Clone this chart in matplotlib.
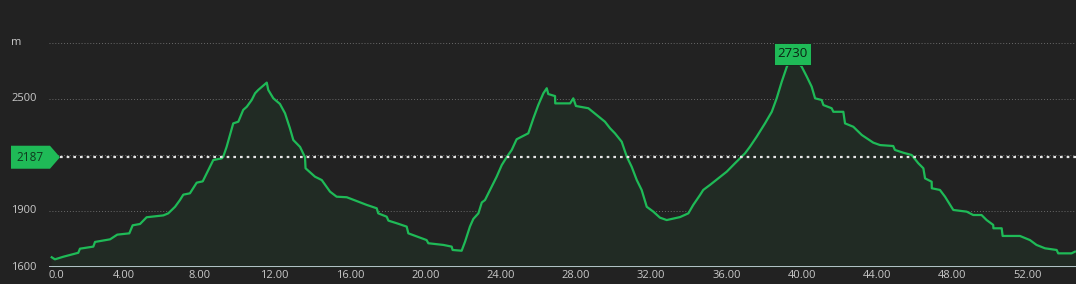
import matplotlib
matplotlib.use("Agg")
import matplotlib.pyplot as plt
from matplotlib.patches import Polygon, Rectangle
import numpy as np

# distance (km) and elevation (m)
dist_km = [0.16, 0.33, 0.78, 1.57, 1.66, 2.37, 2.46, 3.26, 3.64, 4.28, 4.46, 4.85, 5.20, 6.09, 6.35,
           6.71, 6.97, 7.15, 7.50, 7.86, 8.18, 8.39, 8.74, 9.19, 9.27, 9.45, 9.80, 10.07, 10.33, 10.52,
           10.78, 10.96, 11.13, 11.58, 11.66, 11.93, 12.28, 12.55, 12.81, 12.99, 13.35, 13.61, 13.64,
           14.14, 14.50, 14.94, 15.29, 15.83, 16.89, 17.42, 17.50, 17.95, 18.04, 18.48, 19.01, 19.10,
           20.07, 20.16, 20.96, 21.40, 21.45, 21.93, 22.11, 22.37, 22.55, 22.82, 23.00, 23.17, 23.44,
           23.79, 24.06, 24.32, 24.59, 24.85, 25.47, 25.74, 26.00, 26.27, 26.45, 26.53, 26.89, 26.90,
           27.69, 27.86, 28.00, 28.66, 29.10, 29.54, 29.81, 30.07, 30.43, 30.70, 30.96, 31.23, 31.49,
           31.76, 32.11, 32.46, 32.82, 33.53, 33.97, 34.23, 34.59, 34.76, 35.12, 35.56, 36.01, 36.45,
           36.98, 37.24, 37.60, 38.04, 38.40, 38.66, 38.93, 39.20, 39.50, 39.99, 40.26, 40.52, 40.70,
           41.05, 41.14, 41.58, 41.67, 42.20, 42.29, 42.73, 43.18, 43.79, 44.15, 44.85, 44.94, 45.39,
           45.83, 46.18, 46.45, 46.54, 46.89, 46.90, 47.33, 47.60, 47.87, 48.04, 48.75, 49.10, 49.54,
           49.81, 50.16, 50.17, 50.61, 50.66, 51.58, 52.11, 52.46, 52.91, 53.53, 53.61, 54.32, 54.50]
elev_m = [1652, 1641, 1655, 1676, 1698, 1709, 1734, 1748, 1773, 1780, 1823, 1830, 1866, 1876, 1887,
          1922, 1958, 1987, 1994, 2051, 2058, 2101, 2172, 2181, 2190, 2243, 2368, 2377, 2440, 2457,
          2493, 2529, 2547, 2586, 2547, 2502, 2472, 2422, 2342, 2279, 2242, 2187, 2128,
          2083, 2065, 2003, 1976, 1973, 1932, 1914, 1887, 1869, 1848, 1834, 1816, 1780,
          1744, 1727, 1718, 1709, 1691, 1687, 1735, 1816, 1857, 1887, 1945, 1958, 2012,
          2083, 2145, 2187, 2226, 2283, 2315, 2395, 2466, 2529, 2556, 2525, 2514, 2475,
          2475, 2502, 2461, 2449, 2413, 2377, 2342, 2315, 2270, 2190, 2136, 2065, 2012,
          1922, 1896, 1864, 1851, 1867, 1887, 1932, 1985, 2012, 2039, 2074, 2110, 2155,
          2208, 2243, 2297, 2368, 2430, 2502, 2591, 2671, 2730, 2671, 2618, 2564, 2502,
          2493, 2466, 2449, 2430, 2430, 2368, 2350, 2306, 2265, 2252, 2247, 2226, 2211,
          2199, 2155, 2128, 2074, 2056, 2021, 2012, 1976, 1932, 1905, 1896, 1878, 1878,
          1851, 1825, 1807, 1807, 1766, 1766, 1744, 1718, 1700, 1691, 1673, 1673, 1682]

y_ticks = [1600, 1900, 2500, 2800]
y_labels = ["1600", "1900", "2500", "m"]
x_ticks = [0, 4, 8, 12, 16, 20, 24, 28, 32, 36, 40, 44, 48, 52]
avg_elev = 2187
max_elev = 2730

BG = "#222222"
GREEN = "#1fba57"
TXT = "#c9c9c9"

plt.rcParams["font.family"] = ["Open Sans", "DejaVu Sans"]

W, H = 1076, 284
fig = plt.figure(figsize=(W / 100, H / 100), dpi=100, facecolor=BG)
ax_l, ax_b = 48.7, 17
ax = fig.add_axes([ax_l / W, ax_b / H, 1 - ax_l / W, (H - ax_b) / H])
ax.set_facecolor(BG)

ymin = 1600
px_per_m = 0.187
ax.set_ylim(ymin, ymin + (H - ax_b) / px_per_m)
ax.set_xlim(0, (W - ax_l) / 18.83)

for s in ax.spines.values():
    s.set_visible(False)
ax.axhline(ymin, color="#cfe0e6", lw=1.2, zorder=5)

for y in y_ticks[1:] + [2200]:
    ax.axhline(y, color="#6a6a6a", lw=0.7, ls=(0, (1, 2)), zorder=1)

ax.fill_between(dist_km, ymin, elev_m, color="#212b24", zorder=2)
ax.plot(dist_km, elev_m, color=GREEN, lw=1.6, zorder=3, solid_joinstyle="round")

# average elevation line
x0 = (60 - ax_l) / (W - ax_l)
ax.axhline(avg_elev, xmin=x0, color="#e6e6e6", lw=1.6, ls=(0, (1.2, 1.8)), zorder=4)

# ticks
ax.set_yticks([])
ax.set_xticks(x_ticks)
ax.set_xticklabels(["0.0"] + [f"{v:.2f}" for v in x_ticks[1:]], color=TXT, fontsize=8)
ax.xaxis.get_majorticklabels()[0].set_horizontalalignment("left")
ax.tick_params(axis="x", length=0, pad=2.5)

ytr = ax.get_yaxis_transform()
lx = (11 - ax_l) / (W - ax_l)
for y, lab in zip(y_ticks, y_labels):
    ax.text(lx, y, lab, transform=ytr, ha="left", va="center", color=TXT, fontsize=8)

fig.canvas.draw()

# average marker (pixel coords)
_, yp = ax.transData.transform((0, avg_elev))
poly = Polygon([(11, yp - 11.5), (50, yp - 11.5), (60, yp), (50, yp + 11.5), (11, yp + 11.5)],
               closed=True, transform=None, facecolor=GREEN, edgecolor="none", zorder=10)
fig.patches.append(poly)
fig.text(30 / W, yp / H, str(avg_elev), ha="center", va="center", color="#0e3a1d", fontsize=8.5, zorder=11)

# max marker
i = int(np.argmax(elev_m))
xp, yp2 = ax.transData.transform((dist_km[i], elev_m[i]))
yp2 += 2
rect = Rectangle((xp - 18.5, yp2 - 11), 37, 22, transform=None, facecolor=GREEN,
                 edgecolor="#1a1a1a", lw=0.6, zorder=10)
fig.patches.append(rect)
fig.text(xp / W, yp2 / H, str(max_elev), ha="center", va="center", color="#0b2414", fontsize=9.5, zorder=11)

fig.savefig("out.png", dpi=100, facecolor=BG)
